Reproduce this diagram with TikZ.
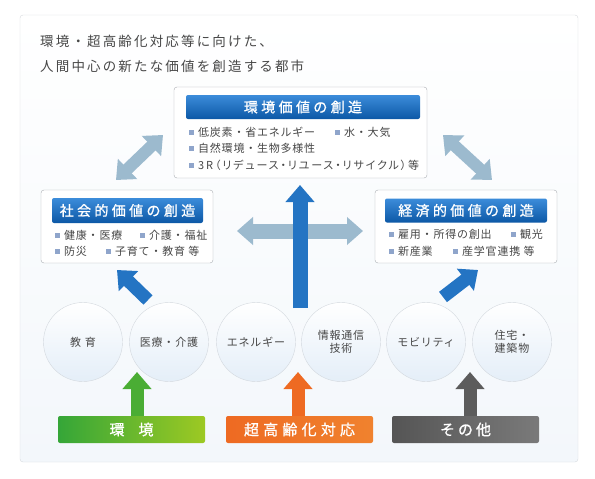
\documentclass[tikz,border=0pt]{standalone}
\usepackage{fontspec}
\setmainfont{Noto Sans CJK JP}
\newfontfamily\jptitle[LetterSpace=16]{Noto Sans CJK JP}
\newfontfamily\jpsp[LetterSpace=24, FakeBold=1]{Noto Sans CJK JP}
\newfontfamily\jpit[LetterSpace=7]{Noto Sans CJK JP}
\newfontfamily\jpitp[LetterSpace=17, RawFeature=+palt]{Noto Sans CJK JP}
\newfontfamily\jpbr[LetterSpace=28, FakeBold=1]{Noto Sans CJK JP}
\usepackage{xcolor}
\usepackage{tikz}
\usetikzlibrary{positioning, arrows.meta, calc}

\definecolor{txtgray}{HTML}{474747}
\definecolor{boxbd}{HTML}{A9ADB2}
\definecolor{panelbd}{HTML}{D6D9DD}
\definecolor{panelbot}{HTML}{F3F7FB}
\definecolor{hdrtop}{HTML}{3C8CDA}
\definecolor{hdrbot}{HTML}{0C58A6}
\definecolor{bulblue}{HTML}{8FA5CB}
\definecolor{arrlight}{HTML}{9CBACE}
\definecolor{arrblue}{HTML}{2474C3}
\definecolor{circbd}{HTML}{D3D8DE}
\definecolor{circbot}{HTML}{E4EEF8}
\definecolor{grnA}{HTML}{35A638}
\definecolor{grnB}{HTML}{9DC923}
\definecolor{orgA}{HTML}{EE6A22}
\definecolor{orgB}{HTML}{F0822E}
\definecolor{gryA}{HTML}{555555}
\definecolor{gryB}{HTML}{7A7A7A}

\newcommand\jphdr{\jpsp\fontsize{14}{16}\selectfont}
\newcommand\jpitem{\jpit\fontsize{11}{13}\selectfont}
\newcommand\jpbar{\jpbr\fontsize{15}{17}\selectfont}
\newcommand\bul{\textcolor{bulblue}{\rule[1.6pt]{5pt}{5pt}}\hspace{4pt}}

\begin{document}
\begin{tikzpicture}[x=1pt, y=-1pt,
    box/.style={draw=boxbd, rounded corners=3pt, fill=white, inner sep=0},
    hdr/.style={rounded corners=2pt, top color=hdrtop, bottom color=hdrbot, text=white, font=\jphdr, inner sep=0},
    item/.style={anchor=west, inner sep=0, text=txtgray, font=\jpitem},
    circ/.style={circle, minimum size=79, inner sep=0, draw=circbd, top color=white, bottom color=circbot, text=txtgray, font=\jpitem, align=center},
    bar/.style={minimum width=147, minimum height=27, rounded corners=2pt, inner sep=0, text=white, font=\jpbar},
    dblarr/.style={draw=arrlight, line width=12pt, {Triangle[width=27pt,length=16pt]}-{Triangle[width=27pt,length=16pt]}},
    uparr/.style={line width=13pt, -{Triangle[width=28pt,length=17pt]}}]
        \useasboundingbox (0,0) rectangle (595,479);
        % Panel
        \draw[draw=panelbd, top color=white, bottom color=panelbot, rounded corners=3pt] (20,15) rectangle (578,462);
        \node[anchor=west, align=left, inner sep=0, text=txtgray, font=\jptitle\fontsize{13.5}{25}\selectfont] (title) at (40,54)
            {環境・超高齢化対応等に向けた、\\人間中心の新たな価値を創造する都市};
        % Value boxes
        \node[box, minimum width=253, minimum height=91] (env) at (300.5,132.5) {};
        \node[hdr, minimum width=234, minimum height=24] (envh) at (303,107) {環境価値の創造};
        \node[item] (env1) at (189,132) {\bul 低炭素・省エネルギー};
        \node[item] (env2) at (335,132) {\bul 水・大気};
        \node[item] (env3) at (189,148) {\bul 自然環境・生物多様性};
        \node[item, font=\jpitp\fontsize{11}{13}\selectfont] (env4) at (189,165) {\bul 3R（リデュース・リユース・リサイクル）等};
        \node[box, minimum width=172, minimum height=73] (soc) at (127,226.5) {};
        \node[hdr, minimum width=151, minimum height=25] (soch) at (127.5,210.5) {社会的価値の創造};
        \node[item] (soc1) at (55,235) {\bul 健康・医療};
        \node[item] (soc2) at (140,235) {\bul 介護・福祉};
        \node[item] (soc3) at (55,251) {\bul 防災};
        \node[item] (soc4) at (106,251) {\bul 子育て・教育 等};
        \node[box, minimum width=182, minimum height=73] (eco) at (466,226.5) {};
        \node[hdr, minimum width=162, minimum height=24] (ecoh) at (466,210.5) {経済的価値の創造};
        \node[item] (eco1) at (389,234) {\bul 雇用・所得の創出};
        \node[item] (eco2) at (511,234) {\bul 観光};
        \node[item] (eco3) at (389,251) {\bul 新産業};
        \node[item] (eco4) at (453,251) {\bul 産学官連携 等};
        % Arrow ends
        \coordinate (lu1) at (116,180);  \coordinate (lu2) at (163,135);
        \coordinate (ru1) at (443,135);  \coordinate (ru2) at (492,180);
        \coordinate (hz1) at (237,231);  \coordinate (hz2) at (363,231);
        \coordinate (vt0) at (300,308);  \coordinate (vt1) at (300,185);
        \coordinate (bl0) at (148,300);  \coordinate (bl1) at (117,270);
        \coordinate (br0) at (443,297);  \coordinate (br1) at (478,270);
        \draw[dblarr] (lu1) -- (lu2);
        \draw[dblarr] (ru1) -- (ru2);
        \draw[dblarr, line width=15pt] (hz1) -- (hz2);
        \draw[uparr, draw=arrblue, line width=15pt] (vt0) -- (vt1);
        \draw[uparr, draw=arrblue, -{Triangle[width=27pt,length=16pt]}] (bl0) -- (bl1);
        \draw[uparr, draw=arrblue, -{Triangle[width=27pt,length=16pt]}] (br0) -- (br1);
        % Fields
        \node[circ] (edu) at (83,342) {教\hspace{4pt}育};
        \node[circ] (med) at (169,342) {医療・介護};
        \node[circ] (ene) at (256,342) {エネルギー};
        \node[circ] (ict) at (341,342) {情報通信\\技術};
        \node[circ] (mob) at (426,342) {モビリティ};
        \node[circ] (hou) at (512,342) {住宅・\\建築物};
        % Drivers
        \node[bar, left color=grnA, right color=grnB] (grn) at (131.5,429.5) {環\hspace{14pt}境};
        \node[bar, left color=orgA, right color=orgB] (org) at (299.5,429.5) {超高齢化対応};
        \node[bar, left color=gryA, right color=gryB] (gry) at (465.5,429.5) {そ\hspace{3pt}の\hspace{3pt}他};
        \coordinate (g1) at (137,372);
        \coordinate (o1) at (298,372);
        \coordinate (y1) at (470,372);
        \draw[uparr, draw=grnA!80!grnB] (grn.north -| g1) -- (g1);
        \draw[uparr, draw=orgA] (org.north -| o1) -- (o1);
        \draw[uparr, draw=gryA!80!gryB] (gry.north -| y1) -- (y1);
\end{tikzpicture}
\end{document}
